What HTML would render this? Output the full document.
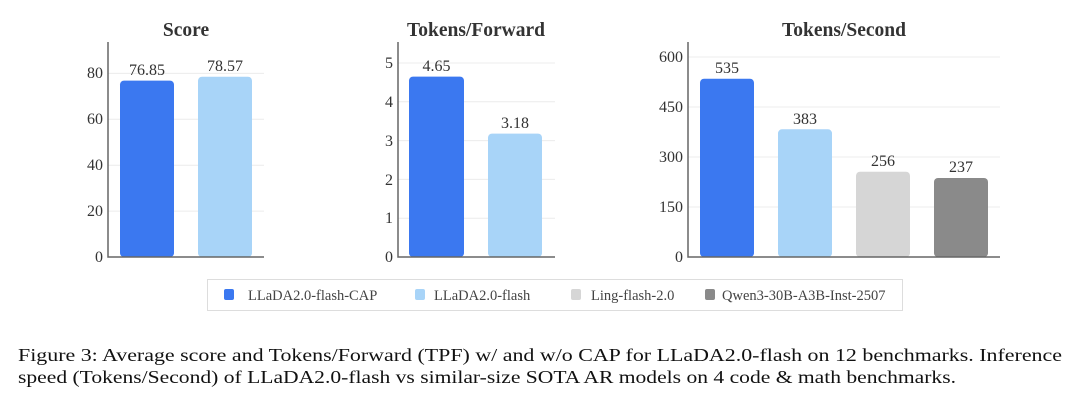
<!DOCTYPE html>
<html><head><meta charset="utf-8"><style>
body{margin:0;background:#fff;}
svg{display:block;font-family:"Liberation Serif",serif;}
</style></head><body>
<svg width="1080" height="401" viewBox="0 0 1080 401">
<g fill="#333" font-size="19.5" font-weight="bold" text-anchor="middle">
<text x="186" y="36">Score</text>
<text x="476" y="36">Tokens/Forward</text>
<text x="844" y="36">Tokens/Second</text>
</g>
<g stroke="#ececec" stroke-width="1">
<line x1="108" x2="264" y1="73.4" y2="73.4"/><line x1="108" x2="264" y1="119.3" y2="119.3"/><line x1="108" x2="264" y1="165.2" y2="165.2"/><line x1="108" x2="264" y1="211.1" y2="211.1"/>
<line x1="398" x2="555" y1="63" y2="63"/><line x1="398" x2="555" y1="101.8" y2="101.8"/><line x1="398" x2="555" y1="140.6" y2="140.6"/><line x1="398" x2="555" y1="179.4" y2="179.4"/><line x1="398" x2="555" y1="218.2" y2="218.2"/>
<line x1="688" x2="1000" y1="57" y2="57"/><line x1="688" x2="1000" y1="107" y2="107"/><line x1="688" x2="1000" y1="157" y2="157"/><line x1="688" x2="1000" y1="207" y2="207"/>
</g>
<g>
<rect x="120" y="80.6" width="54" height="176.4" rx="4" fill="#3b78f0"/>
<rect x="198" y="76.7" width="54" height="180.3" rx="4" fill="#a8d4f8"/>
<rect x="409" y="76.6" width="55" height="180.4" rx="4" fill="#3b78f0"/>
<rect x="488" y="133.6" width="54" height="123.4" rx="4" fill="#a8d4f8"/>
<rect x="700" y="78.7" width="54" height="178.3" rx="4" fill="#3b78f0"/>
<rect x="778" y="129.3" width="54" height="127.7" rx="4" fill="#a8d4f8"/>
<rect x="856" y="171.7" width="54" height="85.3" rx="4" fill="#d6d6d6"/>
<rect x="934" y="178" width="54" height="79" rx="4" fill="#8a8a8a"/>
</g>
<g stroke="#666" stroke-width="1.5" fill="none">
<polyline points="108,42 108,257 264,257"/>
<polyline points="398,42 398,257 555,257"/>
<polyline points="688,42 688,257 1000,257"/>
</g>
<g fill="#333" font-size="16" text-anchor="end">
<text x="103" y="262">0</text><text x="103" y="216">20</text><text x="103" y="170">40</text><text x="103" y="124">60</text><text x="103" y="78">80</text>
<text x="393" y="262">0</text><text x="393" y="223">1</text><text x="393" y="185">2</text><text x="393" y="146">3</text><text x="393" y="107">4</text><text x="393" y="68">5</text>
<text x="683" y="262">0</text><text x="683" y="212">150</text><text x="683" y="162">300</text><text x="683" y="112">450</text><text x="683" y="62">600</text>
</g>
<g fill="#333" font-size="16" text-anchor="middle">
<text x="147" y="75">76.85</text><text x="225" y="71">78.57</text>
<text x="436.5" y="71">4.65</text><text x="515" y="128">3.18</text>
<text x="727" y="73">535</text><text x="805" y="124">383</text><text x="883" y="166">256</text><text x="961" y="172">237</text>
</g>
<rect x="207.5" y="279.5" width="695" height="31" fill="#fff" stroke="#ddd"/>
<g>
<rect x="224" y="289" width="10" height="11" rx="2" fill="#3b78f0"/>
<rect x="415" y="289" width="10" height="11" rx="2" fill="#a8d4f8"/>
<rect x="571" y="289" width="10" height="11" rx="2" fill="#d6d6d6"/>
<rect x="705" y="289" width="10" height="11" rx="2" fill="#8a8a8a"/>
</g>
<g fill="#444" font-size="14.5">
<text x="248" y="300">LLaDA2.0-flash-CAP</text>
<text x="434" y="300">LLaDA2.0-flash</text>
<text x="591" y="300">Ling-flash-2.0</text>
<text x="722" y="300">Qwen3-30B-A3B-Inst-2507</text>
</g>
<g fill="#111" font-size="17.5">
<text x="18" y="361" textLength="1044" lengthAdjust="spacingAndGlyphs">Figure 3: Average score and Tokens/Forward (TPF) w/ and w/o CAP for LLaDA2.0-flash on 12 benchmarks. Inference</text>
<text x="18" y="383" textLength="938" lengthAdjust="spacingAndGlyphs">speed (Tokens/Second) of LLaDA2.0-flash vs similar-size SOTA AR models on 4 code &amp; math benchmarks.</text>
</g>
</svg>
</body></html>
